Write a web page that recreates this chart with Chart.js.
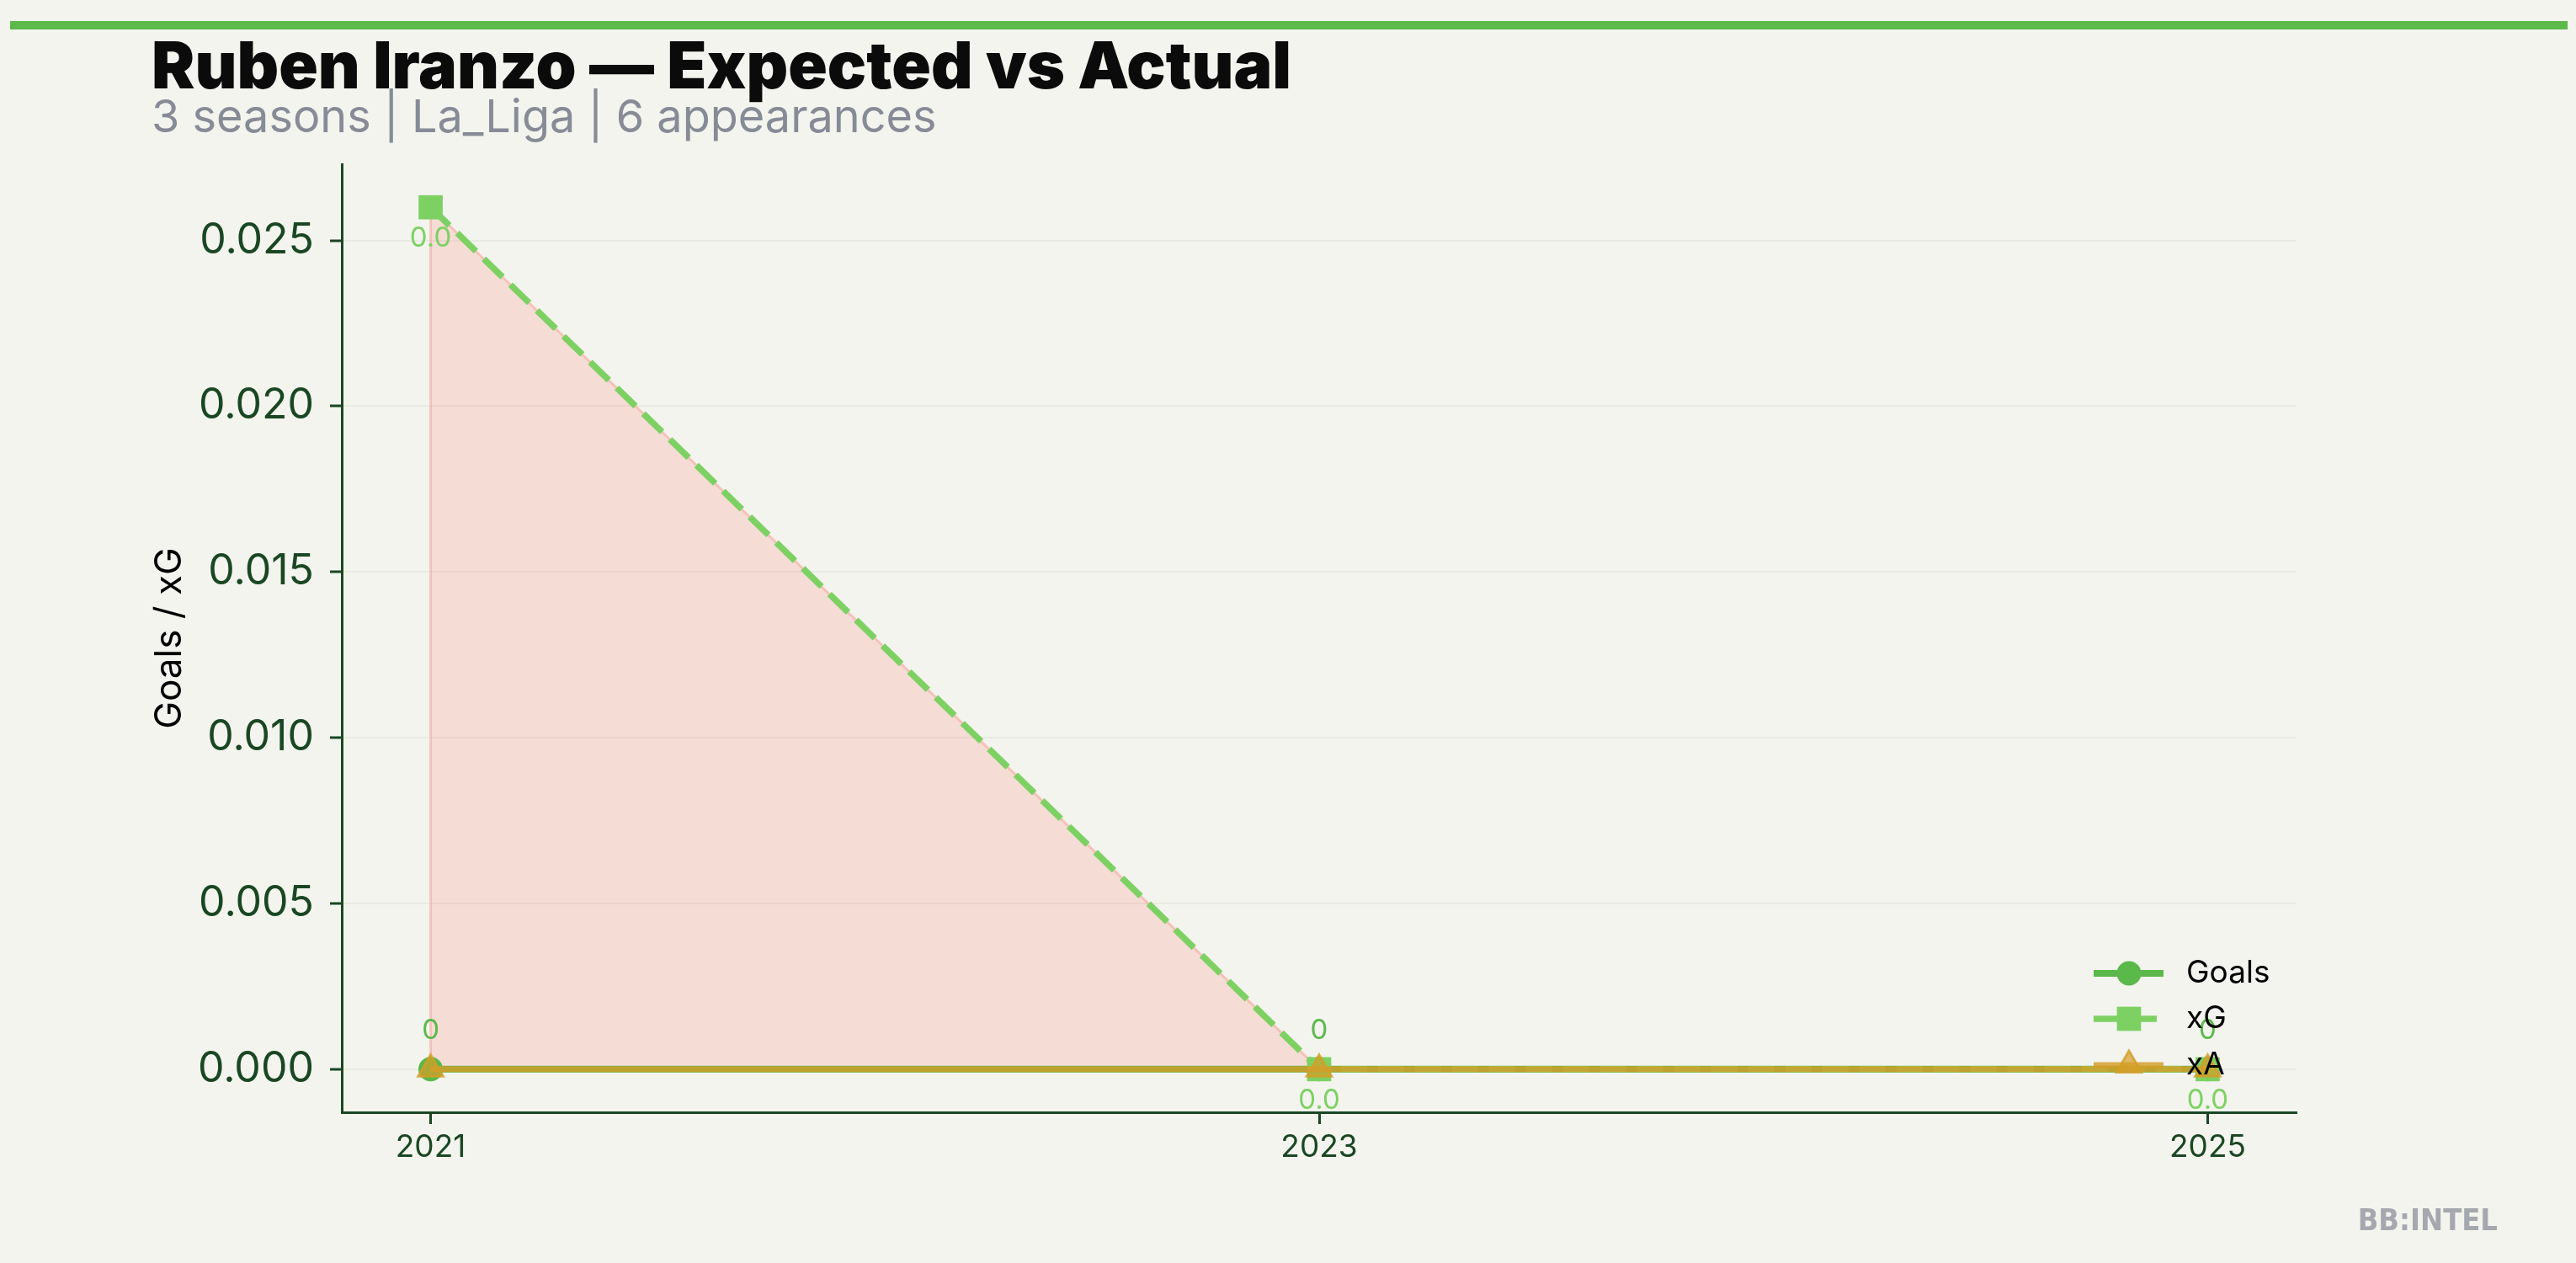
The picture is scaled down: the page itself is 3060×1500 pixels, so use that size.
<!DOCTYPE html>
<html>
<head>
<meta charset="utf-8">
<script src="https://cdn.jsdelivr.net/npm/chart.js@4.4.1/dist/chart.umd.min.js"></script>
<style>
  html, body { margin: 0; padding: 0; background: #f3f4ee; }
  canvas { display: block; }
</style>
</head>
<body>
<canvas id="chart" width="3060" height="1500"></canvas>
<script>
// data
const seasons = [2021, 2023, 2025];
const goals = [0, 0, 0];
const xG = [0.026, 0, 0];
const xA = [0, 0, 0];
const yTicks = [0, 0.005, 0.010, 0.015, 0.020, 0.025];

const titleText = 'Ruben Iranzo \u2014 Expected vs Actual';
const subtitleText = '3 seasons | La_Liga | 6 appearances';
const watermarkText = 'BB:INTEL';

// colours
const BG = '#f3f4ee';
const GOALS_C = '#5ab94a';
const XG_C = '#7dd163';
const XA_C = 'rgba(212, 158, 40, 0.82)';
const FILL_C = 'rgba(255, 100, 90, 0.17)';
const FILL_EDGE = 'rgba(245, 150, 140, 0.45)';
const AXIS_C = '#1a4723';
const GRID_C = '#e9ebe3';
const FONT = 'Inter, "Noto Sans", sans-serif';

const toPoints = arr => seasons.map((s, i) => ({ x: s, y: arr[i] }));

// background, top bar, titles, watermark
const headerPlugin = {
    id: 'header',
    beforeDraw(chart) {
        const ctx = chart.ctx;
        ctx.save();
        ctx.fillStyle = BG;
        ctx.fillRect(0, 0, chart.width, chart.height);
        ctx.fillStyle = '#5cb94a';
        ctx.fillRect(12, 25, chart.width - 22, 10);
        ctx.restore();
    },
    afterDraw(chart) {
        const ctx = chart.ctx;
        ctx.save();
        ctx.textAlign = 'left';
        ctx.textBaseline = 'alphabetic';
        ctx.fillStyle = '#0a0b0a';
        ctx.font = '900 77px ' + FONT;
        ctx.fillText(titleText, 180, 105);
        ctx.fillStyle = '#868b96';
        ctx.font = '400 54px ' + FONT;
        ctx.fillText(subtitleText, 180, 157);
        ctx.fillStyle = '#a5a8ae';
        ctx.font = 'bold 36px "DejaVu Sans Condensed", "DejaVu Sans", sans-serif';
        ctx.textAlign = 'right';
        ctx.fillText(watermarkText, 2967, 1461);
        ctx.restore();
    }
};

// thin edge round the shaded xG > goals area
const fillEdge = {
    id: 'fillEdge',
    beforeDatasetsDraw(chart) {
        const ctx = chart.ctx;
        const g = chart.getDatasetMeta(0).data;
        const e = chart.getDatasetMeta(1).data;
        ctx.save();
        ctx.strokeStyle = FILL_EDGE;
        ctx.lineWidth = 3;
        for (let i = 0; i < e.length - 1; i++) {
            if (xG[i] <= goals[i] && xG[i + 1] <= goals[i + 1]) continue;
            ctx.beginPath();
            ctx.moveTo(g[i].x, g[i].y);
            ctx.lineTo(e[i].x, e[i].y);
            ctx.lineTo(e[i + 1].x, e[i + 1].y);
            ctx.stroke();
        }
        ctx.restore();
    }
};

// value labels: goals above, xG below
const valueLabels = {
    id: 'valueLabels',
    afterDatasetsDraw(chart) {
        const ctx = chart.ctx;
        ctx.save();
        ctx.font = '33px ' + FONT;
        ctx.textAlign = 'center';
        ctx.textBaseline = 'middle';
        chart.getDatasetMeta(0).data.forEach((pt, i) => {
            ctx.fillStyle = GOALS_C;
            ctx.fillText(String(goals[i]), pt.x, pt.y - 46);
        });
        chart.getDatasetMeta(1).data.forEach((pt, i) => {
            ctx.fillStyle = XG_C;
            ctx.fillText(xG[i].toFixed(1), pt.x, pt.y + 37);
        });
        ctx.restore();
    }
};

function marker(ctx, style, x, y, r) {
    ctx.beginPath();
    if (style === 'circle') {
        ctx.arc(x, y, r, 0, Math.PI * 2);
    } else if (style === 'rect') {
        const s = r * Math.SQRT1_2;
        ctx.rect(x - s, y - s, 2 * s, 2 * s);
    } else {
        ctx.moveTo(x, y - r);
        ctx.lineTo(x + r * Math.sin(2 * Math.PI / 3), y - r * Math.cos(2 * Math.PI / 3));
        ctx.lineTo(x + r * Math.sin(4 * Math.PI / 3), y - r * Math.cos(4 * Math.PI / 3));
        ctx.closePath();
    }
}

// legend in the lower right of the plot, line + marker handles
const inlineLegend = {
    id: 'inlineLegend',
    afterDraw(chart) {
        const ctx = chart.ctx;
        const area = chart.chartArea;
        const rows = [-165, -111, -56];
        ctx.save();
        chart.data.datasets.forEach((ds, i) => {
            const y = area.bottom + rows[i];
            const x0 = area.right - 241, x1 = area.right - 158, xm = area.right - 199;
            ctx.strokeStyle = ds.borderColor;
            ctx.lineWidth = ds.borderWidth;
            ctx.setLineDash(ds.borderDash || []);
            ctx.beginPath();
            ctx.moveTo(x0, y);
            ctx.lineTo(x1, y);
            ctx.stroke();
            ctx.setLineDash([]);
            marker(ctx, ds.pointStyle, xm, y, ds.pointRadius);
            ctx.fillStyle = ds.pointBackgroundColor;
            ctx.fill();
            if (ds.pointBorderWidth > 0) {
                ctx.strokeStyle = ds.pointBorderColor;
                ctx.lineWidth = ds.pointBorderWidth;
                ctx.stroke();
            }
            ctx.fillStyle = '#000';
            ctx.font = '37px ' + FONT;
            ctx.textAlign = 'left';
            ctx.textBaseline = 'middle';
            ctx.fillText(ds.label, area.right - 131, y);
        });
        ctx.restore();
    }
};

new Chart(document.getElementById('chart'), {
    type: 'line',
    data: {
        datasets: [
            {
                label: 'Goals',
                data: toPoints(goals),
                borderColor: GOALS_C,
                borderWidth: 8,
                pointStyle: 'circle',
                pointRadius: 14.5,
                pointBackgroundColor: GOALS_C,
                pointBorderColor: GOALS_C,
                pointBorderWidth: 0,
                order: 3
            },
            {
                label: 'xG',
                data: toPoints(xG),
                borderColor: XG_C,
                borderWidth: 7.5,
                borderDash: [31, 13],
                pointStyle: 'rect',
                pointRadius: 20.3,
                pointBackgroundColor: XG_C,
                pointBorderColor: XG_C,
                pointBorderWidth: 0,
                fill: { target: 0, above: FILL_C, below: 'rgba(0,0,0,0)' },
                order: 2
            },
            {
                label: 'xA',
                data: toPoints(xA),
                borderColor: XA_C,
                borderWidth: 7,
                pointStyle: 'triangle',
                pointRadius: 17,
                pointBackgroundColor: 'rgba(212, 158, 40, 0.7)',
                pointBorderColor: XA_C,
                pointBorderWidth: 3,
                order: 1
            }
        ]
    },
    options: {
        responsive: false,
        devicePixelRatio: 1,
        animation: false,
        layout: { padding: { top: 195, left: 180, right: 332, bottom: 0 } },
        elements: { line: { tension: 0 } },
        plugins: {
            legend: { display: false },
            tooltip: { enabled: false },
            filler: { drawTime: 'beforeDatasetsDraw' }
        },
        scales: {
            x: {
                type: 'linear',
                min: 2020.8,
                max: 2025.2,
                afterBuildTicks: axis => { axis.ticks = seasons.map(v => ({ value: v })); },
                afterFit: axis => { axis.height = 179; },
                grid: { drawOnChartArea: false, drawTicks: true, tickLength: 14, tickWidth: 3, tickColor: AXIS_C },
                border: { color: AXIS_C, width: 3 },
                ticks: {
                    color: AXIS_C,
                    font: { family: FONT, size: 37 },
                    padding: 6,
                    maxRotation: 0,
                    callback: v => String(v)
                }
            },
            y: {
                min: -0.0013,
                max: 0.0273,
                afterBuildTicks: axis => { axis.ticks = yTicks.map(v => ({ value: v })); },
                afterFit: axis => { axis.width = 226; },
                grid: { color: GRID_C, lineWidth: 2, drawTicks: true, tickLength: 14, tickWidth: 3, tickColor: AXIS_C },
                border: { color: AXIS_C, width: 3 },
                ticks: {
                    color: AXIS_C,
                    font: { family: FONT, size: 50 },
                    padding: 19,
                    callback: v => v.toFixed(3)
                },
                title: {
                    display: true,
                    text: 'Goals / xG',
                    color: '#000',
                    font: { family: FONT, size: 44, lineHeight: 1 },
                    padding: { top: 0, bottom: 0 }
                }
            }
        }
    },
    plugins: [headerPlugin, fillEdge, valueLabels, inlineLegend]
});
</script>
</body>
</html>
